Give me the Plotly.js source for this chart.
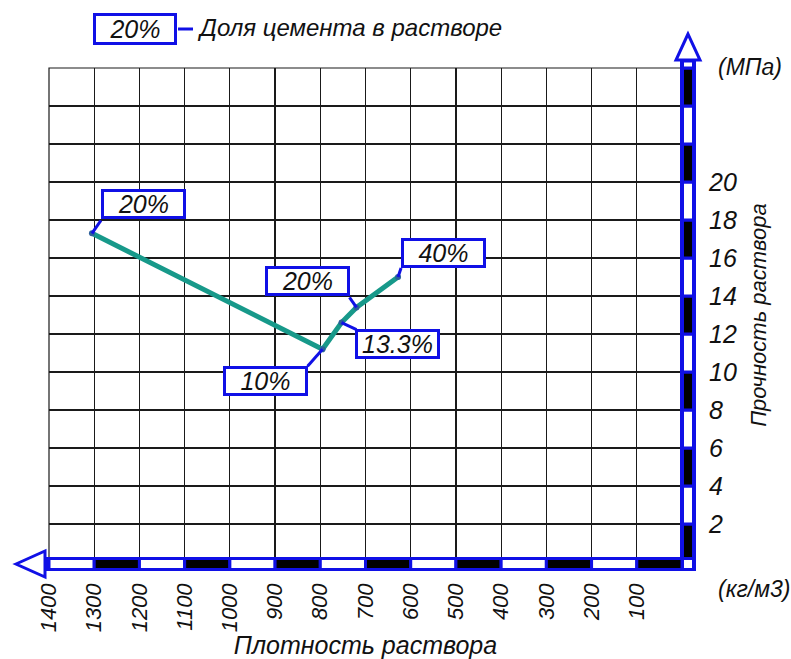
<!DOCTYPE html>
<html><head><meta charset="utf-8">
<script src="https://cdn.plot.ly/plotly-3.0.1.min.js"></script>
<style>html,body{margin:0;padding:0;background:#fff}</style>
</head><body><div id="chart" style="width:791px;height:659px"></div>
<script>
// ---- data ----
const density = [1305, 795, 753, 720, 628];          // кг/м3
const strength = [17.3, 11.2, 12.6, 13.4, 15.0];     // МПа
const cementShare = ['20%', '10%', '13.3%', '20%', '40%'];
const densityTicks = [1400,1300,1200,1100,1000,900,800,700,600,500,400,300,200,100,0];
const densityTickText = ['1400','1300','1200','1100','1000','900','800','700','600','500','400','300','200','100',''];
const strengthTicks = [0,2,4,6,8,10,12,14,16,18,20,22,24,26];
const strengthTickText = ['','2','4','6','8','10','12','14','16','18','20','','',''];
const legendSample = '20%';
const legendText = 'Доля цемента в растворе';

// ---- styling / geometry ----
const W = 791, H = 659;
const M = {l: 49, r: 109, t: 68, b: 97};
const PW = W - M.l - M.r, PH = H - M.t - M.b;
const xRange = [densityTicks[0], densityTicks[densityTicks.length - 1]];
const yRange = [strengthTicks[0], strengthTicks[strengthTicks.length - 1]];
const BLUE = '#1010e6';
const FONT = 'Liberation Sans, Arial, sans-serif';
const px = xs => (xs - M.l) / PW;          // screen x -> paper
const py = ys => (H - M.b - ys) / PH;      // screen y -> paper
const xp = v => (v - xRange[0]) / (xRange[1] - xRange[0]);   // data x -> paper
const yp = v => (v - yRange[0]) / (yRange[1] - yRange[0]);   // data y -> paper
// label box centre offsets (screen px) and connector ends (screen px), per point
const boxOff = [[52,-29],[-57,32],[56,21],[-49,-26],[45,-24]];
const connOff = [[9,-13],[-15,17],[15,7],[-7,-10],[3,-9]];

const shapes = [];
// plot frame
shapes.push({type:'rect', xref:'paper', yref:'paper', x0:0, x1:1, y0:0, y1:1,
  line:{color:'#1a1a1a', width:1.2}, layer:'below'});

// bottom strip outer (blue)
shapes.push({type:'rect', xref:'paper', yref:'paper', x0:px(44), x1:px(696), y0:py(571), y1:py(557),
  fillcolor:BLUE, line:{width:0}, layer:'above'});
// right strip outer (blue)
shapes.push({type:'rect', xref:'paper', yref:'paper', x0:px(680), x1:px(696), y0:py(571), y1:py(60),
  fillcolor:BLUE, line:{width:0}, layer:'above'});
// bottom strip cells from density ticks
for (let i = 0; i < densityTicks.length - 1; i++) {
  shapes.push({type:'rect', xref:'paper', yref:'paper',
    x0:xp(densityTicks[i]), x1:xp(densityTicks[i+1]), y0:py(569.5), y1:py(558.5),
    fillcolor: i % 2 ? '#000' : '#fff', line:{color:BLUE, width:3}, layer:'above'});
}
// right strip cells from strength ticks
for (let j = 0; j < strengthTicks.length - 1; j++) {
  shapes.push({type:'rect', xref:'paper', yref:'paper',
    y0:yp(strengthTicks[j]), y1:yp(strengthTicks[j+1]), x0:px(682.5), x1:px(693.5),
    fillcolor: j % 2 ? '#fff' : '#000', line:{color:BLUE, width:3}, layer:'above'});
}
// corner cell and top stub
shapes.push({type:'rect', xref:'paper', yref:'paper', x0:px(682.5), x1:px(693.5), y0:py(569.5), y1:py(558.5),
  fillcolor:'#fff', line:{color:BLUE, width:3}, layer:'above'});
shapes.push({type:'rect', xref:'paper', yref:'paper', x0:px(682.5), x1:px(693.5), y0:py(68), y1:py(61),
  fillcolor:'#fff', line:{color:BLUE, width:3}, layer:'above'});
// arrow heads
shapes.push({type:'path', xref:'paper', yref:'paper',
  path:`M ${px(16)} ${py(564)} L ${px(45)} ${py(551)} L ${px(45)} ${py(577)} Z`,
  fillcolor:'#fff', line:{color:BLUE, width:3}, layer:'above'});
shapes.push({type:'path', xref:'paper', yref:'paper',
  path:`M ${px(688)} ${py(34)} L ${px(676)} ${py(60)} L ${px(700)} ${py(60)} Z`,
  fillcolor:'#fff', line:{color:BLUE, width:3}, layer:'above'});
// label connectors
for (let k = 0; k < density.length; k++) {
  shapes.push({type:'line', xref:'x', yref:'y', xsizemode:'pixel', ysizemode:'pixel',
    xanchor:density[k], yanchor:strength[k], x0:0, y0:0, x1:connOff[k][0], y1:-connOff[k][1],
    line:{color:BLUE, width:3}, layer:'above'});
}
// legend connector
shapes.push({type:'line', xref:'paper', yref:'paper', x0:px(178), x1:px(193), y0:py(29), y1:py(29),
  line:{color:BLUE, width:3}});

const labelFont = {family:FONT, size:25, color:'#111', style:'italic'};
const annotations = density.map((d, k) => ({
  x:d, y:strength[k], xref:'x', yref:'y', text:cementShare[k], showarrow:false,
  xshift:boxOff[k][0], yshift:-boxOff[k][1], xanchor:'center', yanchor:'middle',
  width:79, height:24, align:'center', bgcolor:'#fff', bordercolor:BLUE, borderwidth:3, borderpad:0,
  font:labelFont
}));
annotations.push({xref:'paper', yref:'paper', x:px(135), y:py(29), text:legendSample, showarrow:false,
  xanchor:'center', yanchor:'middle', width:78, height:26, bgcolor:'#fff', bordercolor:BLUE, borderwidth:3, borderpad:0,
  font:labelFont});
annotations.push({xref:'paper', yref:'paper', x:px(195), y:py(28), text:legendText, showarrow:false,
  xanchor:'left', yanchor:'middle', font:{family:FONT, size:24, color:'#111', style:'italic'}});
annotations.push({xref:'paper', yref:'paper', x:px(716), y:py(67), text:'(МПа)', showarrow:false,
  xanchor:'left', yanchor:'middle', font:{family:FONT, size:23, color:'#111', style:'italic'}});
annotations.push({xref:'paper', yref:'paper', x:px(716), y:py(589), text:'(кг/м3)', showarrow:false,
  xanchor:'left', yanchor:'middle', font:{family:FONT, size:23, color:'#111', style:'italic'}});

const trace = {
  x: density, y: strength, type:'scatter', mode:'lines+markers',
  line:{color:'#17998a', width:5}, marker:{color:'#2b5f9a', size:6},
  hoverinfo:'skip', cliponaxis:false
};

const layout = {
  width:W, height:H, margin:M, showlegend:false,
  paper_bgcolor:'#fff', plot_bgcolor:'#fff',
  xaxis:{range:xRange, tickvals:densityTicks, ticktext:densityTickText, tickangle:-90,
    showgrid:true, gridcolor:'#1a1a1a', gridwidth:1.2, zeroline:false, showline:false, ticks:'',
    ticklabelstandoff:16, tickfont:{family:FONT, size:22, color:'#111', style:'italic'},
    title:{text:'Плотность раствора', standoff:4, font:{family:FONT, size:25, color:'#111', style:'italic'}},
    automargin:false, fixedrange:true},
  yaxis:{range:yRange, side:'right', tickvals:strengthTicks, ticktext:strengthTickText,
    showgrid:true, gridcolor:'#1a1a1a', gridwidth:1.2, zeroline:false, showline:false, ticks:'',
    ticklabelstandoff:26, tickfont:{family:FONT, size:25, color:'#111', style:'italic'},
    title:{text:'Прочность раствора', standoff:14, font:{family:FONT, size:22, color:'#111', style:'italic'}},
    automargin:false, fixedrange:true},
  shapes:shapes, annotations:annotations
};

Plotly.newPlot('chart', [trace], layout, {displayModeBar:false, staticPlot:true});
</script></body></html>
